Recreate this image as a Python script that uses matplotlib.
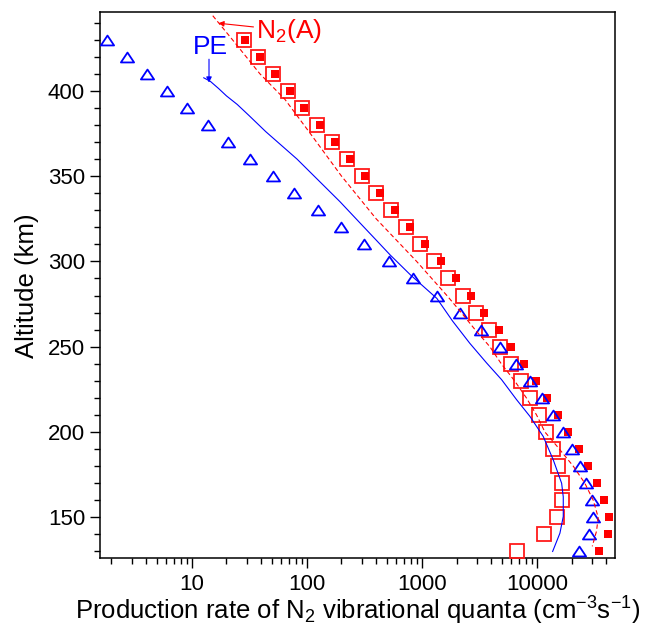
import numpy as np
import matplotlib
matplotlib.use("Agg")
import matplotlib.pyplot as plt
from matplotlib.ticker import FixedLocator, LogLocator, NullFormatter, MultipleLocator
from matplotlib.path import Path

plt.rcParams['font.family'] = ['Liberation Sans', 'DejaVu Sans']
plt.rcParams['mathtext.default'] = 'regular'

# altitudes of the symbols (km), top to bottom
alt = [430, 420, 410, 400, 390, 380, 370, 360, 350, 340, 330, 320, 310, 300, 290,
       280, 270, 260, 250, 240, 230, 220, 210, 200, 190, 180, 170, 160, 150, 140, 130]

# blue triangles
tri = [1.82, 2.74, 4.05, 6.1, 9.1, 13.8, 20.7, 32.3, 50.4, 77, 125, 198, 317, 519, 843,
       1355, 2160, 3270, 4780, 6520, 8700, 11100, 13850, 16750, 20150, 23650, 26950,
       29900, 30650, 28450, 23050]

# red open squares
sq_open = [28.4, 37.7, 50.7, 68.2, 91.2, 123.5, 167, 225, 303, 402, 540, 721, 964, 1280,
           1698, 2260, 2940, 3820, 4800, 5990, 7290, 8770, 10400, 12060, 13750, 15400,
           16400, 16550, 15040, 11600, 6750]

# red filled squares
sq_fill = [29.2, 39.3, 52.5, 71, 95, 130, 176, 236, 320, 430, 587, 790, 1070, 1460, 1965,
           2670, 3490, 4640, 5950, 7770, 9860, 12270, 15350, 18770, 23100, 28050, 33350,
           38450, 42000, 41300, 34450]

# PE model curve (blue solid)
pe_alt = [407.6, 405.5, 401.3, 397, 392, 385.5, 376, 360, 352, 335, 322.5, 312, 303.6, 292,
          278.3, 265, 252, 240.5, 230.7, 219, 209.2, 197.4, 183.7, 170, 162, 150.5, 140.7, 130]
pe_val = [12.7, 14.5, 17.1, 20, 24.8, 31.4, 44, 82, 108, 194, 290, 407, 533, 798,
          1350, 1850, 2610, 3650, 4930, 6650, 8690, 11350, 13870, 16400, 16950, 16950, 15850, 13700]

# N2(A) model curve (red dashed)
na_alt = [444, 430, 410, 395, 375, 350, 325, 300, 280, 270, 260, 250, 240, 230, 220, 210,
          200, 192, 180, 170, 160, 150, 142, 133]
na_val = [15.2, 22.5, 39, 64.4, 107, 200, 400, 900, 1650, 2200, 2900, 3900, 4900, 6400, 8100,
          9930, 11740, 14820, 20700, 26100, 30900, 34100, 33000, 30300]

xticks = [10, 100, 1000, 10000]
xticklabels = ['10', '100', '1000', '10000']

fig = plt.figure(figsize=(6.45, 6.27), dpi=100)
ax = fig.add_axes([0.1555, 0.1096, 0.7984, 0.8708])

# flattened triangle marker
tri_marker = Path([(-1, -0.75), (1, -0.75), (0, 0.75), (-1, -0.75)],
                  [Path.MOVETO, Path.LINETO, Path.LINETO, Path.CLOSEPOLY])

ax.plot(sq_open, alt, ls='none', marker='s', ms=9.5, mfc='none', mec='#ff1a1a', mew=1.3, zorder=3)
ax.plot(sq_fill, alt, ls='none', marker='s', ms=6, mfc='#ff0000', mec='#ff0000', mew=0, zorder=4)
ax.plot(tri, alt, ls='none', marker=tri_marker, ms=9.5, mfc='none', mec='#0000ff', mew=1.3, zorder=5)
ax.plot(pe_val, pe_alt, color='#0000ff', lw=0.8, zorder=6)
ax.plot(na_val, na_alt, color='#ff0000', lw=0.8, ls=(0, (4, 2.5)), zorder=6)

ax.annotate('N$_2$(A)', xy=(17.0, 439.6), xytext=(36.3, 435.2), color='#ff0000', fontsize=19,
            va='center', ha='left',
            arrowprops=dict(arrowstyle='-|>', color='#ff0000', lw=0.8, mutation_scale=8,
                            shrinkA=0, shrinkB=0))
ax.annotate('', xy=(14.1, 404.8), xytext=(14.1, 418.5),
            arrowprops=dict(arrowstyle='-|>', color='#0000ff', lw=0.8, mutation_scale=8,
                            shrinkA=0, shrinkB=0))
ax.text(14.4, 425.8, 'PE', color='#0000ff', fontsize=19, ha='center', va='center')

ax.set_xscale('log')
ax.set_xlim(1.6, 48000)
ax.set_ylim(126, 446)

ax.xaxis.set_major_locator(FixedLocator(xticks))
ax.set_xticklabels(xticklabels)
ax.xaxis.set_minor_locator(LogLocator(base=10, subs=np.arange(2, 10), numticks=20))
ax.xaxis.set_minor_formatter(NullFormatter())
ax.yaxis.set_major_locator(MultipleLocator(50))
ax.yaxis.set_minor_locator(MultipleLocator(10))

ax.tick_params(which='major', direction='out', length=7, width=1, labelsize=16, pad=4)
ax.tick_params(which='minor', direction='out', length=4, width=1)
for s in ax.spines.values():
    s.set_linewidth(1.1)

ax.set_xlabel('Production rate of N$_2$ vibrational quanta (cm$^{-3}$s$^{-1}$)', fontsize=18.5, labelpad=0)
ax.set_ylabel('Altitude (km)', fontsize=18.5, labelpad=6)

fig.savefig('out.png', dpi=100)
